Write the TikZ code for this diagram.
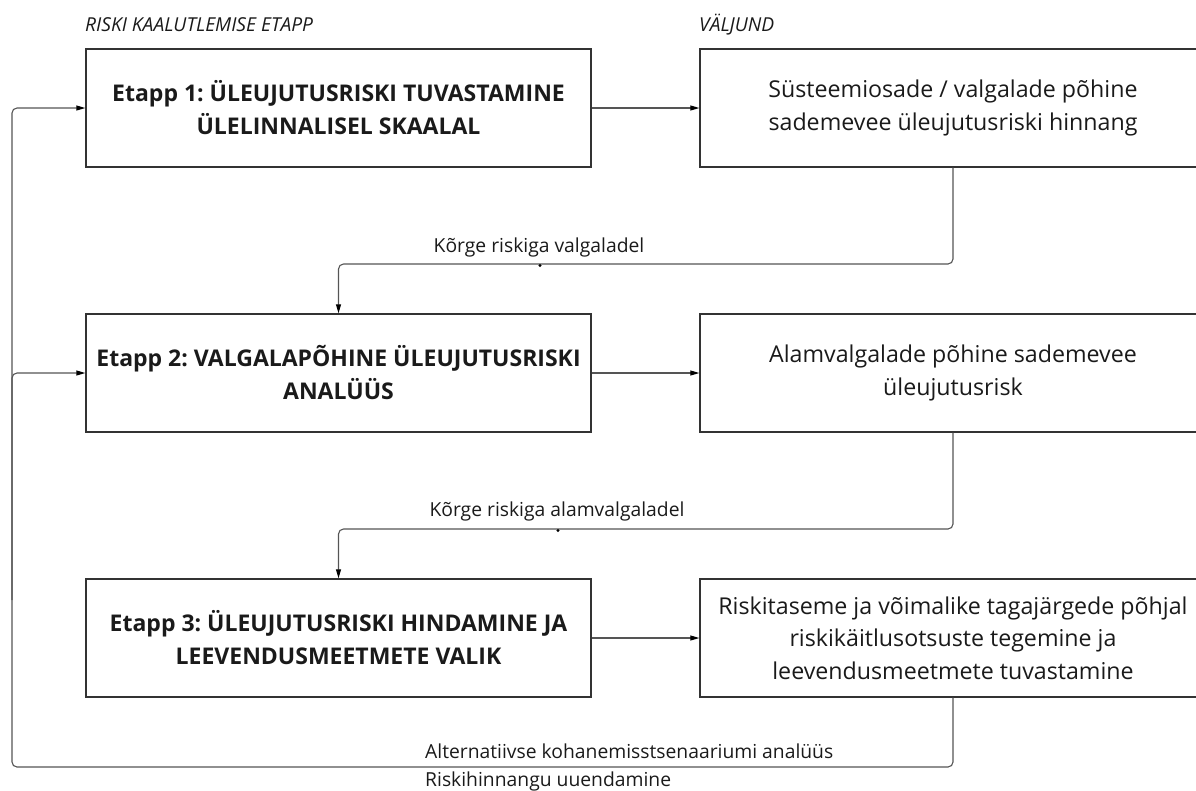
\documentclass[tikz,border=0pt]{standalone}
\usepackage{fontspec}
\setmainfont{Open Sans}
\usetikzlibrary{arrows.meta}
\definecolor{boxc}{HTML}{333333}
\definecolor{connc}{HTML}{555555}
\definecolor{textc}{HTML}{1A1A1A}
\frenchspacing
\begin{document}
\begin{tikzpicture}[x=1pt,y=-1pt,
  stage/.style={draw=boxc, line width=1.4pt, minimum width=505pt, minimum height=118pt, inner sep=0pt, align=center, text=textc, font=\fontsize{23}{33}\selectfont\bfseries},
  outbox/.style={draw=boxc, line width=1.4pt, minimum width=506pt, minimum height=118pt, inner sep=0pt, align=center, text=textc, font=\fontsize{23.2}{32.5}\selectfont},
  conn/.style={draw=connc, line width=1.1pt, rounded corners=5pt},
  tip/.style={-{Triangle[length=9pt,width=5pt,color=black]}},
  lbl/.style={font=\fontsize{19.3}{23}\selectfont, text=textc, inner sep=0pt},
  hdr/.style={font=\fontsize{19.2}{22}\selectfont\itshape, text=textc, inner sep=0pt, anchor=base west},
  dotc/.style={fill=black}
]
\useasboundingbox (0,0) rectangle (1196,790);
\clip (0,0) rectangle (1196,790);

% headers
\node[hdr] (h1) at (85,31) {RISKI KAALUTLEMISE ETAPP};
\node[hdr] (h2) at (699,31) {VÄLJUND};

% stage boxes
\node[stage] (b1) at (338.5,108) {Etapp 1: ÜLEUJUTUSRISKI TUVASTAMINE\\ÜLELINNALISEL SKAALAL};
\node[stage] (b2) at (338.5,373) {Etapp 2: VALGALAPÕHINE ÜLEUJUTUSRISKI\\ANALÜÜS};
\node[stage] (b3) at (338.5,638) {Etapp 3: ÜLEUJUTUSRISKI HINDAMINE JA\\LEEVENDUSMEETMETE VALIK};

% output boxes
\node[outbox] (r1) at (953,108) {Süsteemiosade / valgalade põhine\\sademevee üleujutusriski hinnang};
\node[outbox] (r2) at (953,373) {Alamvalgalade põhine sademevee\\üleujutusrisk};
\node[outbox] (r3) at (953,638) {Riskitaseme ja võimalike tagajärgede põhjal\\riskikäitlusotsuste tegemine ja\\leevendusmeetmete tuvastamine};

% horizontal arrows
\draw[conn,tip] (b1.east) -- (r1.west);
\draw[conn,tip] (b2.east) -- (r2.west);
\draw[conn,tip] (b3.east) -- (r3.west);

% downward connectors
\coordinate (k1) at (953,264);
\coordinate (k2) at (953,529);
\draw[conn,tip] (r1.south) -- (k1) -| (b2.north);
\draw[conn,tip] (r2.south) -- (k2) -| (b3.north);
\node[lbl, anchor=base] (l1) at (539,252) {Kõrge riskiga valgaladel};
\node[lbl, anchor=base] (l2) at (557,516) {Kõrge riskiga alamvalgaladel};
\fill[dotc] (540,265.5) circle (1.6);
\fill[dotc] (558,530.5) circle (1.6);

% feedback loop
\coordinate (lb) at (12,767);
\coordinate (lm) at (12,600);
\draw[conn,tip] (r3.south) |- (lb) |- (b1.west);
\draw[conn,tip] (lm) |- (b2.west);
\node[lbl, anchor=base west] (l3) at (425,758) {Alternatiivse kohanemisstsenaariumi analüüs};
\node[lbl, anchor=base west] (l4) at (425,786) {Riskihinnangu uuendamine};
\end{tikzpicture}
\end{document}
